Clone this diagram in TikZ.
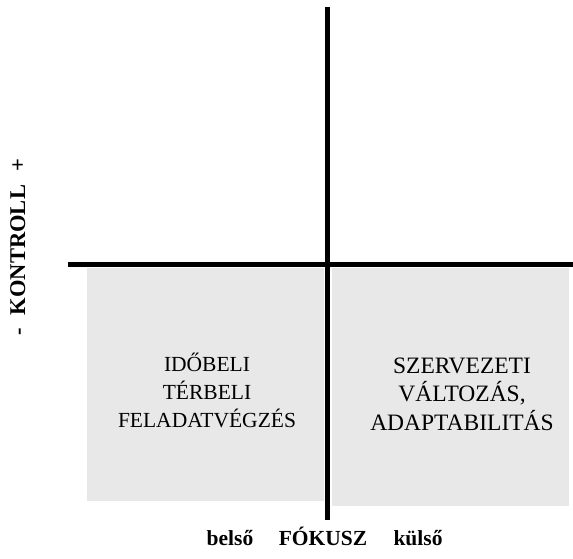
\documentclass[tikz,border=0pt]{standalone}
\usepackage{fontspec}
\setmainfont{Liberation Serif}
\definecolor{quadgray}{HTML}{E8E8E8}
\begin{document}
\begin{tikzpicture}[x=1pt,y=1pt,
  quad/.style={fill=quadgray, draw=none},
  axis/.style={line width=5pt, draw=black},
  qtext/.style={align=center, font=\fontsize{21.5}{28}\selectfont, inner sep=0pt},
  qtextb/.style={align=center, font=\fontsize{23.5}{28.5}\selectfont, inner sep=0pt},
  axlabel/.style={font=\bfseries\fontsize{21.5}{24}\selectfont, inner sep=0pt, anchor=base},
  vlabel/.style={font=\bfseries\fontsize{22.5}{24}\selectfont, inner sep=0pt, anchor=base, rotate=90}]
\useasboundingbox (0,0) rectangle (573,558);
\fill[quad] (87,57) rectangle (324,290);
\fill[quad] (332,52) rectangle (569,290);
\coordinate (vtop) at (327.5,551);
\coordinate (vbot) at (327.5,38);
\coordinate (hleft) at (68,294);
\coordinate (hright) at (573,294);
\draw[axis] (vtop) -- (vbot);
\draw[axis] (hleft) -- (hright);
\node[qtext] (inner) at (207,168) {IDŐBELI\\TÉRBELI\\FELADATVÉGZÉS};
\node[qtextb] (outer) at (462,164) {SZERVEZETI\\VÁLTOZÁS,\\ADAPTABILITÁS};
\node[axlabel] (belso) at (230,13) {belső};
\node[axlabel] (fokusz) at (323,13) {FÓKUSZ};
\node[axlabel] (kulso) at (418,13) {külső};
\node[vlabel] (kontroll) at (25,308) {KONTROLL};
\node[vlabel] (plus) at (25,393) {+};
\node[vlabel] (minus) at (25,226) {-};
\end{tikzpicture}
\end{document}
